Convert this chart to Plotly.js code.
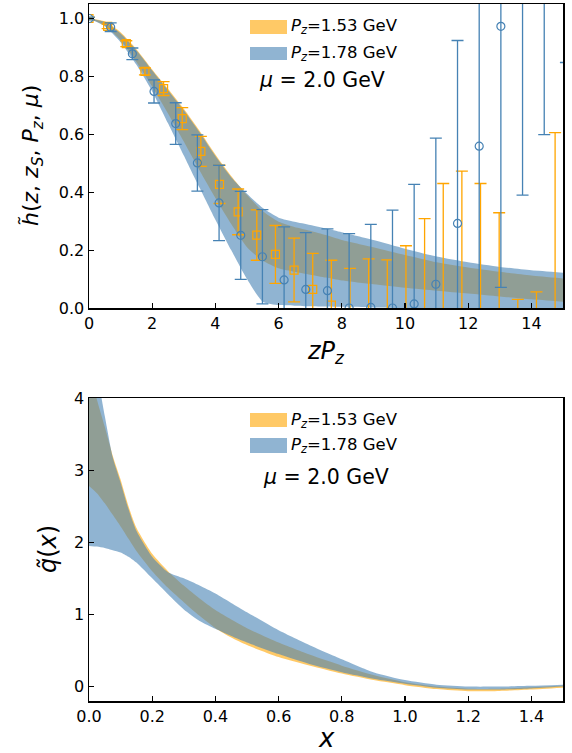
<!DOCTYPE html>
<html>
<head>
<meta charset="utf-8">
<script src="https://cdn.plot.ly/plotly-3.0.1.min.js"></script>
<style>
html,body{margin:0;padding:0;background:#fff;}
#chart{width:572px;height:753px;}
</style>
</head>
<body>
<div id="chart"></div>
<script>
// ---------- top panel: data points ----------
const zPzOrange = [0, 0.59, 1.18, 1.77, 2.36, 2.95, 3.54, 4.13, 4.72, 5.31, 5.90, 6.49, 7.08, 7.67, 8.26, 8.85, 9.44, 10.03, 10.62, 11.21, 11.80, 12.39, 12.98, 13.57, 14.16, 14.75];
const hOrange = [1.0, 0.973, 0.913, 0.817, 0.758, 0.654, 0.541, 0.427, 0.332, 0.252, 0.185, 0.131, 0.064, 0.01, -0.03, -0.02, -0.04, -0.03, -0.02, -0.05, -0.05, -0.05, -0.15, -0.4, -0.4, -0.1];
const errOrange = [0.004, 0.008, 0.01, 0.012, 0.024, 0.038, 0.052, 0.066, 0.079, 0.087, 0.1, 0.11, 0.125, 0.155, 0.167, 0.19, 0.206, 0.245, 0.329, 0.48, 0.523, 0.48, 0.479, 0.43, 0.456, 0.706];

const zPzBlue = [0, 0.686, 1.372, 2.058, 2.744, 3.43, 4.116, 4.802, 5.488, 6.174, 6.86, 7.546, 8.232, 8.918, 9.604, 10.29, 10.976, 11.662, 12.348, 13.034, 13.72, 14.406, 15.092];
const hBlue = [1.0, 0.97, 0.878, 0.748, 0.637, 0.501, 0.363, 0.251, 0.177, 0.097, 0.064, 0.06, 0.0, 0.002, 0.0, 0.014, 0.082, 0.292, 0.559, 0.973, 1.25, 1.35, 1.6];
const errBlue = [0.005, 0.015, 0.02, 0.04, 0.072, 0.097, 0.13, 0.152, 0.163, 0.183, 0.196, 0.213, 0.257, 0.287, 0.338, 0.413, 0.505, 0.632, 0.75, 0.902, 0.86, 0.751, 0.752];

// ---------- top panel: bands ----------
const zBand = [0, 0.5, 1, 1.5, 2, 2.5, 3, 3.5, 4, 4.5, 5, 5.5, 6, 6.5, 7, 7.5, 8, 9, 10, 11, 12, 13, 14, 15];
const hOrangeLo = [1.0, 0.976, 0.925, 0.85, 0.765, 0.672, 0.575, 0.475, 0.38, 0.29, 0.21, 0.163, 0.137, 0.125, 0.115, 0.105, 0.095, 0.082, 0.07, 0.06, 0.05, 0.04, 0.03, 0.022];
const hOrangeHi = [1.0, 0.99, 0.952, 0.894, 0.824, 0.757, 0.688, 0.612, 0.53, 0.456, 0.39, 0.334, 0.298, 0.28, 0.267, 0.252, 0.235, 0.21, 0.183, 0.158, 0.14, 0.125, 0.112, 0.102];
const hBlueLo = [1.0, 0.973, 0.918, 0.84, 0.748, 0.638, 0.527, 0.415, 0.305, 0.2, 0.1, 0.022, 0.01, 0.008, 0.006, 0.005, 0.004, 0.002, 0.0, -0.002, -0.004, -0.006, -0.008, -0.01];
const hBlueHi = [1.0, 0.988, 0.948, 0.89, 0.82, 0.752, 0.683, 0.607, 0.525, 0.452, 0.395, 0.345, 0.312, 0.298, 0.287, 0.275, 0.262, 0.235, 0.205, 0.178, 0.158, 0.142, 0.13, 0.122];

// ---------- bottom panel: bands ----------
const xq = [0, 0.025, 0.05, 0.075, 0.1, 0.125, 0.15, 0.2, 0.25, 0.3, 0.35, 0.4, 0.45, 0.5, 0.6, 0.7, 0.8, 0.9, 1.0, 1.1, 1.2, 1.3, 1.4, 1.5];
const qOrangeLo = [2.78, 2.68, 2.54, 2.38, 2.22, 2.05, 1.88, 1.6, 1.37, 1.17, 0.98, 0.81, 0.68, 0.575, 0.41, 0.29, 0.18, 0.09, 0.02, -0.035, -0.065, -0.06, -0.04, -0.015];
const qOrangeHi = [4.4, 3.98, 3.6, 3.2, 2.87, 2.5, 2.2, 1.84, 1.6, 1.4, 1.22, 1.06, 0.93, 0.81, 0.61, 0.44, 0.29, 0.16, 0.06, 0.0, -0.03, -0.03, -0.01, 0.01];
const qBlueLo = [1.95, 1.94, 1.92, 1.89, 1.86, 1.8, 1.72, 1.5, 1.28, 1.07, 0.91, 0.8, 0.7, 0.61, 0.45, 0.31, 0.2, 0.11, 0.04, -0.015, -0.04, -0.04, -0.025, 0.0];
const qBlueHi = [4.9, 4.35, 3.75, 3.18, 2.83, 2.46, 2.16, 1.8, 1.585, 1.5, 1.4, 1.29, 1.16, 1.03, 0.78, 0.57, 0.38, 0.2, 0.09, 0.025, 0.0, 0.0, 0.01, 0.025];

const seriesNames = ["<i>P</i><sub><i>z</i></sub>=1.53 GeV", "<i>P</i><sub><i>z</i></sub>=1.78 GeV"];
const muLabel = "<i>μ</i> = 2.0 GeV";

const ORANGE = '#FFA500', BLUE = '#4682B4';
const ORANGE_F = 'rgba(255,165,0,0.6)', BLUE_F = 'rgba(70,130,180,0.6)';

function band(x, lo, hi, color, xa, ya) {
  return [
    {x: x, y: lo, xaxis: xa, yaxis: ya, mode: 'lines', line: {width: 0, shape: 'spline', smoothing: 0.6}, hoverinfo: 'skip', showlegend: false},
    {x: x, y: hi, xaxis: xa, yaxis: ya, mode: 'lines', line: {width: 0, shape: 'spline', smoothing: 0.6}, fill: 'tonexty', fillcolor: color, hoverinfo: 'skip', showlegend: false}
  ];
}

const traces = [
  ...band(zBand, hOrangeLo, hOrangeHi, ORANGE_F, 'x', 'y'),
  ...band(zBand, hBlueLo, hBlueHi, BLUE_F, 'x', 'y'),
  {x: zPzOrange, y: hOrange, xaxis: 'x', yaxis: 'y', mode: 'markers', showlegend: false,
   marker: {symbol: 'square-open', size: 8, color: ORANGE, line: {width: 1.2, color: ORANGE}},
   error_y: {type: 'data', array: errOrange, visible: true, color: ORANGE, thickness: 1.3, width: 6}},
  {x: zPzBlue, y: hBlue, xaxis: 'x', yaxis: 'y', mode: 'markers', showlegend: false,
   marker: {symbol: 'circle-open', size: 8, color: BLUE, line: {width: 1.2, color: BLUE}},
   error_y: {type: 'data', array: errBlue, visible: true, color: BLUE, thickness: 1.3, width: 6}},
  ...band(xq, qOrangeLo, qOrangeHi, ORANGE_F, 'x2', 'y2'),
  ...band(xq, qBlueLo, qBlueHi, BLUE_F, 'x2', 'y2')
];

const axisCommon = {
  showline: true, linewidth: 1.5, linecolor: 'black', mirror: true,
  ticks: 'inside', ticklen: 5, tickwidth: 1.2, tickcolor: 'black',
  showgrid: false, zeroline: false, tickfont: {size: 16, family: 'DejaVu Sans', color: 'black'}
};

// pixel helpers for paper coordinates (plot area: x 89..563, y 4..701)
const px = v => (v - 89) / 474;
const py = v => (701 - v) / 697;

const fontTxt = {family: 'DejaVu Sans', color: 'black'};

const layout = {
  width: 572, height: 753,
  margin: {l: 89, r: 9, t: 4, b: 52},
  paper_bgcolor: 'white', plot_bgcolor: 'white',
  showlegend: false,
  font: {family: 'DejaVu Sans', size: 16, color: 'black'},
  xaxis: Object.assign({}, axisCommon, {domain: [0, 1], anchor: 'y', range: [0, 15], tick0: 0, dtick: 2}),
  yaxis: Object.assign({}, axisCommon, {domain: [py(308), 1], anchor: 'x', range: [0, 1.05], tick0: 0, dtick: 0.2, tickformat: '.1f'}),
  xaxis2: Object.assign({}, axisCommon, {domain: [0, 1], anchor: 'y2', range: [0, 1.5], tick0: 0, dtick: 0.2, tickformat: '.1f'}),
  yaxis2: Object.assign({}, axisCommon, {domain: [0, py(398)], anchor: 'x2', range: [-0.2, 4], tick0: 0, dtick: 1}),
  shapes: [
    {type: 'rect', xref: 'paper', yref: 'paper', x0: px(250), x1: px(287), y0: py(34), y1: py(20), fillcolor: ORANGE_F, line: {width: 0}},
    {type: 'rect', xref: 'paper', yref: 'paper', x0: px(250), x1: px(287), y0: py(60), y1: py(47), fillcolor: BLUE_F, line: {width: 0}},
    {type: 'rect', xref: 'paper', yref: 'paper', x0: px(250), x1: px(287), y0: py(427), y1: py(413), fillcolor: ORANGE_F, line: {width: 0}},
    {type: 'rect', xref: 'paper', yref: 'paper', x0: px(250), x1: px(287), y0: py(453), y1: py(438), fillcolor: BLUE_F, line: {width: 0}}
  ],
  annotations: [
    {xref: 'paper', yref: 'paper', x: px(289), y: py(27), xanchor: 'left', yanchor: 'middle', text: seriesNames[0], showarrow: false, font: Object.assign({size: 16.5}, fontTxt)},
    {xref: 'paper', yref: 'paper', x: px(289), y: py(53), xanchor: 'left', yanchor: 'middle', text: seriesNames[1], showarrow: false, font: Object.assign({size: 16.5}, fontTxt)},
    {xref: 'paper', yref: 'paper', x: px(257), y: py(80), xanchor: 'left', yanchor: 'middle', text: muLabel, showarrow: false, font: Object.assign({size: 20.5}, fontTxt)},
    {xref: 'paper', yref: 'paper', x: px(289), y: py(420), xanchor: 'left', yanchor: 'middle', text: seriesNames[0], showarrow: false, font: Object.assign({size: 16.5}, fontTxt)},
    {xref: 'paper', yref: 'paper', x: px(289), y: py(445), xanchor: 'left', yanchor: 'middle', text: seriesNames[1], showarrow: false, font: Object.assign({size: 16.5}, fontTxt)},
    {xref: 'paper', yref: 'paper', x: px(261), y: py(477), xanchor: 'left', yanchor: 'middle', text: muLabel, showarrow: false, font: Object.assign({size: 20.5}, fontTxt)},
    // axis titles
    {xref: 'paper', yref: 'paper', x: 0.5, y: py(352), xanchor: 'center', yanchor: 'middle', text: "<i>zP</i><sub><i>z</i></sub>", showarrow: false, font: Object.assign({size: 24}, fontTxt)},
    {xref: 'paper', yref: 'paper', x: 0.5, y: py(738), xanchor: 'center', yanchor: 'middle', text: "<i>x</i>", showarrow: false, font: Object.assign({size: 26}, fontTxt)},
    {xref: 'paper', yref: 'paper', x: px(33), y: py(156), xanchor: 'center', yanchor: 'middle', textangle: -90, text: "<i>h\u0303</i>(<i>z</i>, <i>z</i><sub><i>S</i></sub>, <i>P</i><sub><i>z</i></sub>, <i>μ</i>)", showarrow: false, font: Object.assign({size: 22}, fontTxt)},
    {xref: 'paper', yref: 'paper', x: px(48), y: py(549), xanchor: 'center', yanchor: 'middle', textangle: -90, text: "<i>q\u0303</i>(<i>x</i>)", showarrow: false, font: Object.assign({size: 24}, fontTxt)}
  ]
};

Plotly.newPlot('chart', traces, layout, {staticPlot: true, displayModeBar: false});
</script>
</body>
</html>
